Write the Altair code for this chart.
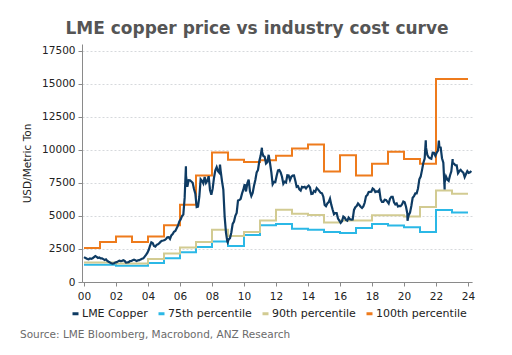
import altair as alt
import pandas as pd

# ---- step cost-curve series (value from Jan 1 of each year) ----
step_years = list(range(2000, 2025))
p75 = [1300, 1300, 1220, 1220, 1430, 1800, 2250, 2650, 3070, 2720, 3550, 4300,
       4380, 4020, 3950, 3780, 3700, 4080, 4380, 4280, 4150, 3780, 5450, 5250]
p90 = [1480, 1480, 1400, 1400, 1740, 2150, 2600, 3030, 3950, 3470, 3780, 4650,
       5460, 5160, 5060, 4500, 4650, 4650, 5050, 5050, 4950, 5680, 6920, 6670]
p100 = [2570, 3020, 3440, 3020, 3440, 4300, 5850, 8050, 9800, 9250, 9080, 9200,
        9550, 10100, 10400, 8350, 9580, 8050, 8950, 9850, 9300, 8950, 15350, 15350]

# ---- LME copper, monthly (Jan 2000 - Mar 2024) ----
copper_start_year = 2000
copper_monthly = [
    1850, 1800, 1740, 1720, 1790, 1760, 1800, 1880, 1960, 1900, 1810, 1850,
    1780, 1780, 1730, 1670, 1720, 1600, 1530, 1470, 1420, 1390, 1420, 1470,
    1500, 1560, 1610, 1580, 1600, 1640, 1590, 1470, 1480, 1500, 1580, 1590,
    1650, 1680, 1640, 1590, 1640, 1650, 1710, 1760, 1790, 1920, 2050, 2200,
    2420, 2740, 3000, 2950, 2730, 2680, 2810, 2860, 2930, 3050, 3120, 3140,
    3170, 3250, 3380, 3390, 3250, 3520, 3620, 3800, 3860, 4060, 4270, 4580,
    4730, 4980, 5100, 6380, 8050, 7200, 7700, 7690, 7600, 7500, 7030, 6680,
    5670, 5700, 6450, 7770, 7650, 7450, 7950, 7490, 7650, 8000, 6960, 6600,
    7060, 7890, 8440, 8680, 8380, 8260, 8410, 7630, 6990, 4930, 3720, 3070,
    3220, 3320, 3750, 4400, 4570, 5010, 5220, 6160, 6200, 6290, 6680, 6980,
    7390, 6850, 7460, 7750, 6840, 6500, 6740, 7280, 7710, 8290, 8470, 9150,
    9560, 9870, 9530, 9480, 8960, 9060, 9620, 9000, 8300, 7390, 7570, 7560,
    8040, 8440, 8470, 8290, 7960, 7420, 7580, 7520, 8070, 8060, 7710, 7960,
    8050, 8060, 7650, 7200, 7250, 7000, 6910, 7190, 7160, 7200, 7070, 7210,
    7290, 7150, 6650, 6670, 6890, 6820, 7110, 7000, 6870, 6740, 6710, 6450,
    5830, 5730, 5940, 6040, 6300, 5830, 5460, 5130, 5220, 5220, 4800, 4640,
    4470, 4600, 4950, 4870, 4700, 4640, 4870, 4750, 4720, 4730, 5450, 5660,
    5750, 5940, 5820, 5690, 5600, 5720, 5990, 6480, 6580, 6810, 6820, 6830,
    7070, 7000, 6800, 6850, 6830, 6960, 6250, 6050, 6050, 6220, 6200, 6080,
    5940, 6300, 6440, 6440, 6030, 5870, 5940, 5710, 5760, 5740, 5860, 6080,
    6030, 5690, 5180, 5060, 5240, 5750, 6370, 6500, 6700, 6700, 7070, 7770,
    7970, 8460, 9000, 9330, 10180, 9610, 9430, 9360, 9320, 9780, 9770, 9550,
    9780, 9940, 10240, 10180, 9360, 9030, 7530, 7980, 7750, 7650, 8060, 8370,
    8990, 8950, 8830, 8820, 8230, 8390, 8480, 8350, 8270, 7940, 8170, 8390,
    8250, 8300, 8400,
]
# intra-month extremes visible on the chart (decimal year, USD/t)
copper_extra_t = [2000.0, 2006.37, 2008.50, 2008.98, 2011.12, 2020.22, 2021.36, 2022.18, 2022.54, 2023.04]
copper_extra_v = [1880, 8750, 8880, 3000, 10150, 4630, 10720, 10700, 7000, 9300]

series_names = ["LME Copper", "75th percentile", "90th percentile", "100th percentile"]
series_colors = ["#0e3b63", "#2bb8e6", "#d2cb92", "#ee7b1c"]
y_ticks = [0, 2500, 5000, 7500, 10000, 12500, 15000, 17500]
x_ticks = list(range(2000, 2025, 2))
source_text = "Source: LME Bloomberg, Macrobond, ANZ Research"

# ---- tables ----
cu_t = [copper_start_year + (i + 0.5) / 12 for i in range(len(copper_monthly))]
copper_df = pd.DataFrame({
    "t": cu_t + copper_extra_t,
    "value": copper_monthly + copper_extra_v,
}).sort_values("t")
copper_df["series"] = "LME Copper"

rows = []
for name, vals in [("75th percentile", p75), ("90th percentile", p90), ("100th percentile", p100)]:
    ext = vals + [vals[-1]]
    for yr, v in zip(step_years, ext):
        rows.append({"t": yr, "value": v, "series": name})
steps_df = pd.DataFrame(rows)

x_enc = alt.X("t:Q",
              scale=alt.Scale(domain=[1999.875, 2024.25], nice=False, zero=False),
              axis=alt.Axis(values=x_ticks, labelExpr="substring(toString(datum.value), 2, 4)",
                            title=None, grid=False, tickSize=4, labelPadding=5))
y_enc = alt.Y("value:Q",
              scale=alt.Scale(domain=[0, 18000], nice=False),
              axis=alt.Axis(values=y_ticks, format="d", title="USD/Metric Ton", grid=True,
                            gridDash=[2, 2], gridColor="#d6d9dc", tickSize=4,
                            labelPadding=3, titlePadding=9))
color_enc = alt.Color("series:N",
                      scale=alt.Scale(domain=series_names, range=series_colors),
                      legend=alt.Legend(title=None, orient="none", legendX=-12, legendY=264,
                                        direction="horizontal", columns=4,
                                        symbolType="stroke", symbolStrokeWidth=3,
                                        symbolSize=36, labelFontSize=11, labelOffset=1,
                                        columnPadding=4, labelColor="#222222",
                                        labelFont="DejaVu Sans"))

steps = alt.Chart(steps_df).mark_line(interpolate="step-after", strokeWidth=2).encode(
    x=x_enc, y=y_enc, color=color_enc)
copper = alt.Chart(copper_df).mark_line(strokeWidth=2.2).encode(
    x=x_enc, y=y_enc, color=color_enc)

source = alt.Chart(pd.DataFrame({"txt": [source_text]})).mark_text(
    align="left", baseline="middle", fontSize=10.5, font="DejaVu Sans", color="#6b6b6b"
).encode(text="txt:N", x=alt.value(-62), y=alt.value(291))

chart = alt.layer(steps, copper, source).properties(
    width=390, height=238,
    title=alt.TitleParams("LME copper price vs industry cost curve", fontSize=17,
                          font="DejaVu Sans", fontWeight="bold", color="#555555",
                          anchor="middle", dx=-20, offset=6),
    autosize=alt.AutoSizeParams(type="none"),
    padding={"left": 82, "top": 44, "right": 40, "bottom": 73},
).configure_view(stroke=None).configure_axis(
    labelFont="DejaVu Sans", labelFontSize=10.5, labelColor="#222222",
    titleFont="DejaVu Sans", titleFontSize=10.5, titleFontWeight="normal", titleColor="#222222",
    domainColor="#8a8a8a", tickColor="#8a8a8a",
)

chart.save("out.html", embed_options={"renderer": "svg", "actions": False})
